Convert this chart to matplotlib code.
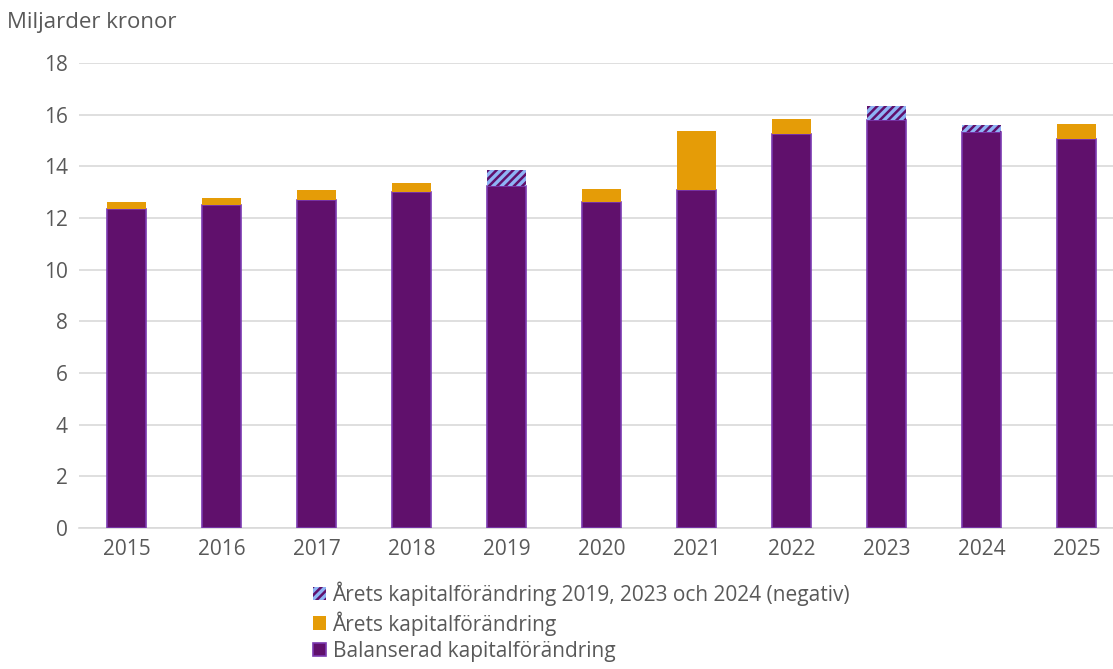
import matplotlib.pyplot as plt
import numpy as np

years = ["2015", "2016", "2017", "2018", "2019", "2020", "2021", "2022", "2023", "2024", "2025"]
balanserad = [12.35, 12.50, 12.70, 13.01, 13.24, 12.62, 13.09, 15.25, 15.80, 15.33, 15.06]
arets = [0.27, 0.28, 0.39, 0.35, 0, 0.50, 2.28, 0.58, 0, 0, 0.58]
arets_negativ = [0, 0, 0, 0, 0.62, 0, 0, 0, 0.54, 0.27, 0]

purple = "#60106C"
purple_edge = "#7B3AB0"
orange = "#E59C07"
lightblue = "#8EB4F5"
textgrey = "#595959"

plt.rcParams['font.family'] = ['Open Sans', 'DejaVu Sans']
plt.rcParams['hatch.linewidth'] = 1.8

fig = plt.figure(figsize=(11.13, 6.69), dpi=100)
# plot area runs past the right figure edge, like the original
ax = fig.add_axes([0.071, 0.211, 0.939, 0.695])

x = np.arange(len(years))
w = 0.41
ax.bar(x, balanserad, w, color=purple, edgecolor=purple_edge, linewidth=1.2,
       label="Balanserad kapitalförändring", zorder=3)
bottom2 = np.array(balanserad)
ax.bar(x, arets, w, bottom=bottom2, color=orange, linewidth=0,
       label="Årets kapitalförändring", zorder=3)
ax.bar(x, arets_negativ, w, bottom=bottom2, facecolor=lightblue, edgecolor=purple,
       hatch="////", linewidth=0,
       label="Årets kapitalförändring 2019, 2023 och 2024 (negativ)", zorder=3)

ax.set_ylim(0, 18)
ax.set_yticks(range(0, 19, 2))
ax.set_xlim(-0.5, len(years) - 0.5)
ax.set_xticks(x)
ax.set_xticklabels(years)
ax.grid(axis="y", color="#D9D9D9", linewidth=1.2, zorder=0)
for s in ["top", "right", "left"]:
    ax.spines[s].set_visible(False)
ax.spines["bottom"].set_color("#D9D9D9")
ax.spines["bottom"].set_linewidth(1.2)
ax.tick_params(axis="both", length=0, labelsize=15, colors=textgrey, pad=8)

fig.text(0.006, 0.966, "Miljarder kronor", fontsize=16, color=textgrey, va="center")

handles, labels = ax.get_legend_handles_labels()
leg = fig.legend(handles[::-1], labels[::-1], loc="upper left", bbox_to_anchor=(0.281, 0.131),
                 frameon=False, fontsize=15, labelcolor=textgrey, borderpad=0, borderaxespad=0,
                 handlelength=0.65, handleheight=0.65, handletextpad=0.3, labelspacing=0.25)

fig.savefig("out.png", dpi=100)
